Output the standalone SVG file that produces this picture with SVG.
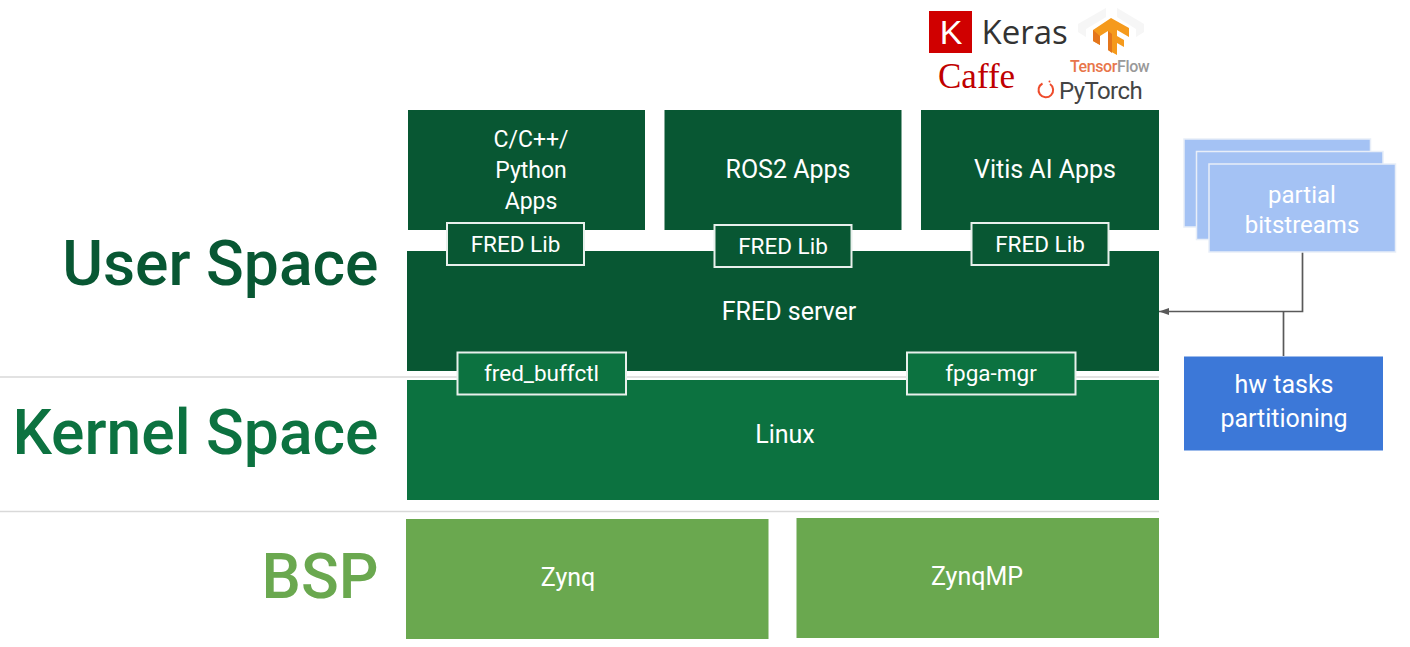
<svg xmlns="http://www.w3.org/2000/svg" width="1410" height="647" viewBox="0 0 1410 647">
<defs>
<marker id="ah" markerWidth="11" markerHeight="8" refX="10" refY="3.500" orient="auto" markerUnits="userSpaceOnUse"><path d="M0 0L10 3.500L0 7Z" fill="#595959"/></marker>
</defs>
<style>
text{font-family:Roboto,"Liberation Sans",sans-serif;fill:#fff;text-anchor:middle}
.t{font-size:25px}
.m{font-size:23px}
.b{font-size:24px}
.s{font-size:22.500px}
.h{font-weight:500;font-size:62.400px;text-anchor:end}
.lib{fill:#085733;stroke:#e8f0ec;stroke-width:2}
.buf{fill:#0c7240;stroke:#e8f0ec;stroke-width:2}
.lb{fill:#a4c2f4;stroke:#e8eef8;stroke-width:1.500}
.sep{stroke:#d9d9d9;stroke-width:1.500}
.wire{stroke:#595959;stroke-width:1.700;fill:none}
</style>
<rect width="1410" height="647" fill="#fff"/>
<g id="separators">
<line class="sep" x1="0" y1="377" x2="1159" y2="377"/>
<line class="sep" x1="0" y1="511.500" x2="1159" y2="511.500"/>
</g>
<g id="labels">
<text class="h" x="378.500" y="285" style="fill:#085733">User Space</text>
<text class="h" x="378.500" y="454" style="fill:#0c7240">Kernel Space</text>
<text class="h" x="378.500" y="598" style="fill:#6aa84f">BSP</text>
</g>
<g id="logos">
<rect x="929" y="11" width="43" height="42" fill="#d00000"/>
<text x="951" y="43.500" style="font-size:34px;font-family:'Liberation Sans',sans-serif">K</text>
<text x="981.500" y="44" style="font-size:33px;font-family:'Open Sans',sans-serif;fill:#333;text-anchor:start">Keras</text>
<g opacity="0.5" fill="#eeeeee"><path d="M1078 24L1106 8V17L1086 29V37L1078 32Z"/><path d="M1144 24L1117 8V17L1136 29V37L1144 32Z"/></g>
<path d="M1111 18L1129 28V37L1117 30V36L1124 40V47L1117 43V55L1108 50V31L1100 36V45L1093 41V30Z" fill="#f59a1c"/>
<path d="M1108 31V50L1112 53V34ZM1093 30V41L1100 45V36Z" fill="#e4761c"/>
<text x="938" y="88" style="font-size:35px;font-family:'Liberation Serif',serif;fill:#c00000;text-anchor:start">Caffe</text>
<text x="1070" y="72" style="font-size:16px;font-weight:500;text-anchor:start;letter-spacing:-0.400px;fill:#e8754a">Tensor<tspan fill="#999">Flow</tspan></text>
<path d="M1042.500 83.500A7.300 7.300 0 1 0 1050 84" fill="none" stroke="#ee4c2c" stroke-width="2"/>
<circle cx="1049.500" cy="81.500" r="1" fill="#ee4c2c"/>
<text x="1059" y="99" style="font-size:24px;letter-spacing:-0.600px;text-anchor:start;fill:#444">PyTorch</text>
</g>
<g id="connectors">
<path class="wire" d="M1302.500 252V311.500H1159" marker-end="url(#ah)"/>
<path class="wire" d="M1283.500 356V311.500"/>
</g>
<g id="apps-c"><rect x="408" y="110" width="237" height="120" fill="#085733"/><text class="m" x="531" y="147">C/C++/</text><text class="m" x="531" y="178">Python</text><text class="m" x="531" y="209">Apps</text></g>
<g id="apps-ros"><rect x="664.500" y="110" width="237" height="120" fill="#085733"/><text class="t" x="788" y="177.500">ROS2 Apps</text></g>
<g id="apps-vitis"><rect x="921" y="110" width="238" height="120" fill="#085733"/><text class="t" x="1045" y="177.500">Vitis AI Apps</text></g>
<g id="fred-server"><rect x="407" y="251" width="752" height="120" fill="#085733"/><text class="t" x="789" y="319.500">FRED server</text></g>
<g id="linux"><rect x="407" y="380" width="752" height="120" fill="#0c7240"/><text class="t" x="785" y="442.500">Linux</text></g>
<g id="zynq"><rect x="406" y="519" width="362.500" height="120" fill="#6aa84f"/><text class="t" x="568" y="586">Zynq</text></g>
<g id="zynqmp"><rect x="796.500" y="518" width="362.500" height="120" fill="#6aa84f"/><text class="t" x="977" y="585">ZynqMP</text></g>
<g id="lib1"><rect class="lib" x="447" y="223" width="137" height="42"/><text class="s" x="515.500" y="251.500">FRED Lib</text></g>
<g id="lib2"><rect class="lib" x="714.500" y="225" width="137" height="42"/><text class="s" x="783" y="253.500">FRED Lib</text></g>
<g id="lib3"><rect class="lib" x="971.500" y="223" width="137" height="42"/><text class="s" x="1040" y="251.500">FRED Lib</text></g>
<g id="buffctl"><rect class="buf" x="457.500" y="352.500" width="168.500" height="42"/><text class="s" x="541.500" y="381">fred_buffctl</text></g>
<g id="fpgamgr"><rect class="buf" x="907" y="352.500" width="168.500" height="42"/><text class="s" x="991" y="381">fpga-mgr</text></g>
<g id="bitstreams">
<rect class="lb" x="1184" y="139" width="186.500" height="88"/>
<rect class="lb" x="1196.500" y="151.500" width="186.500" height="88"/>
<rect class="lb" x="1209" y="164" width="186.500" height="88"/>
<text class="b" x="1302" y="202.500">partial</text><text class="b" x="1302" y="232.500">bitstreams</text>
</g>
<g id="hw-tasks"><rect x="1184" y="356.500" width="199" height="94" fill="#3c78d8"/><text class="t" x="1284" y="392.500">hw tasks</text><text class="t" x="1284" y="426.500">partitioning</text></g>
</svg>
